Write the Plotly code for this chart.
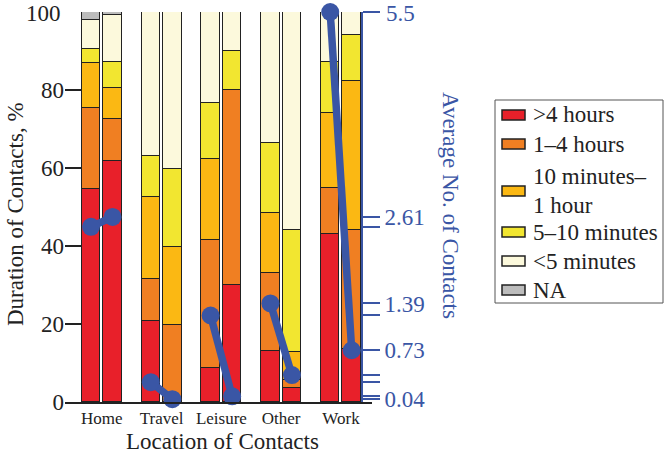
import plotly.graph_objects as go

# ---- data ----
locations = ["Home", "Travel", "Leisure", "Other", "Work"]
durations = [">4 hours", "1–4 hours", "10 minutes–<br>1 hour", "5–10 minutes", "<5 minutes", "NA"]
# two bars per location (first bar, second bar), values in %
gt4h    = [54.5, 61.8, 20.8, 0.0, 8.8, 30.0, 13.2, 3.7, 43.0, 13.5]
h1_4    = [21.0, 10.7, 10.7, 19.7, 32.7, 50.0, 20.0, 1.9, 11.8, 30.6]
m10_1h  = [11.5, 7.9, 21.0, 20.1, 20.8, 0.0, 15.2, 7.3, 19.2, 38.2]
m5_10   = [3.5, 6.9, 10.6, 19.9, 14.4, 10.0, 17.9, 31.2, 13.3, 11.8]
lt5m    = [7.5, 11.9, 36.9, 40.3, 23.3, 10.0, 33.7, 55.9, 12.7, 5.9]
na      = [2.0, 0.8, 0, 0, 0, 0, 0, 0, 0, 0]
avg_contacts = [2.47, 2.61, 0.28, 0.04, 1.22, 0.08, 1.39, 0.38, 5.5, 0.73]
right_labels = {0.04: "0.04", 0.73: "0.73", 1.39: "1.39", 2.61: "2.61"}
left_ticks = [0, 20, 40, 60, 80, 100]
left_labels = ["0", "20", "40", "60", "80", ""]
top_left_label, top_right_label = "100", "5.5"   # drawn as text a touch lower to stay inside the page

series = [gt4h, h1_4, m10_1h, m5_10, lt5m, na]
colors = ["#e8202a", "#f07f22", "#fbb813", "#f2e630", "#fcf9dc", "#bcbcbc"]

W, H = 664, 460
PLOT_L, PLOT_R, PLOT_T, PLOT_B = 65, 372, 12, 402
ML, MT = PLOT_L, PLOT_T
MR, MB = W - PLOT_R, H - PLOT_B
PW, PH = PLOT_R - PLOT_L, PLOT_B - PLOT_T


def px(x):
    return (x - PLOT_L) / PW


def py(y):
    return 1 - (y - PLOT_T) / PH


OFF = 0.18
xpos = []
for g in range(len(locations)):
    xpos += [g - OFF, g + OFF]

FONT = "Liberation Serif, Times New Roman, serif"
BLUE = "#3a56a5"
DARK = "#222222"

fig = go.Figure()
for name, vals, col in zip(durations, series, colors):
    fig.add_trace(go.Bar(
        x=xpos, y=vals, name=name, width=0.31, showlegend=False,
        marker=dict(color=col, line=dict(color=DARK, width=1.5)),
    ))

# line segments per location
lx, ly = [], []
for g in range(len(locations)):
    lx += [xpos[2 * g], xpos[2 * g + 1], None]
    ly += [avg_contacts[2 * g], avg_contacts[2 * g + 1], None]
fig.add_trace(go.Scatter(
    x=lx, y=ly, yaxis="y2", mode="lines+markers", showlegend=False,
    line=dict(color=BLUE, width=7.5), marker=dict(color=BLUE, size=18),
    cliponaxis=False,
))

tv = sorted(set(avg_contacts))
tt = [right_labels.get(v, "") for v in tv]

# ---- manual legend ----
shapes = [dict(type="rect", xref="paper", yref="paper",
               x0=px(495), x1=px(663), y0=py(100), y1=py(303),
               line=dict(color="#555555", width=1), fillcolor="white", layer="above")]
annotations = []
item_y = [115, 144, 191, 232, 261, 290]
labels = [[">4 hours"], ["1–4 hours"], ["10 minutes–", "1 hour"], ["5–10 minutes"], ["<5 minutes"], ["NA"]]
for yc, col, lab in zip(item_y, colors, labels):
    shapes.append(dict(type="rect", xref="paper", yref="paper",
                       x0=px(502), x1=px(525), y0=py(yc + 5), y1=py(yc - 5),
                       line=dict(color=DARK, width=1.5), fillcolor=col, layer="above"))
    if len(lab) == 1:
        ys = [yc]
    else:
        ys = [yc - 15, yc + 14]
    for t, yy in zip(lab, ys):
        annotations.append(dict(text=t, showarrow=False, xref="paper", yref="paper",
                                x=px(531), y=py(yy), xanchor="left", yanchor="middle",
                                font=dict(size=23, family=FONT, color=DARK)))

annotations += [
    dict(text="Average No. of Contacts", textangle=90, showarrow=False,
         xref="paper", yref="paper", x=px(451), y=py(206),
         xanchor="center", yanchor="middle", font=dict(size=23, family=FONT, color=BLUE)),
    dict(text="Duration of Contacts, %", textangle=-90, showarrow=False,
         xref="paper", yref="paper", x=px(15), y=py(214),
         xanchor="center", yanchor="middle", font=dict(size=23, family=FONT, color=DARK)),
    dict(text="Location of Contacts", showarrow=False,
         xref="paper", yref="paper", x=px(222), y=py(441),
         xanchor="center", yanchor="middle", font=dict(size=23, family=FONT, color=DARK)),
    dict(text=top_left_label, showarrow=False, xref="paper", yref="paper",
         x=px(63), y=py(14), xanchor="right", yanchor="middle",
         font=dict(size=23, family=FONT, color=DARK)),
    dict(text=top_right_label, showarrow=False, xref="paper", yref="paper",
         x=px(384), y=py(14), xanchor="left", yanchor="middle",
         font=dict(size=23, family=FONT, color=BLUE)),
]

fig.update_layout(
    width=W, height=H,
    margin=dict(l=ML, r=MR, t=MT, b=MB),
    paper_bgcolor="white", plot_bgcolor="white",
    barmode="stack", bargap=0,
    font=dict(family=FONT, color=DARK),
    showlegend=False,
    xaxis=dict(
        range=[-0.615, 4.519], tickvals=list(range(len(locations))), ticktext=locations,
        showline=True, linecolor=DARK, linewidth=1.5, showgrid=False, zeroline=False,
        ticks="", tickfont=dict(size=17, family=FONT, color=DARK), automargin=False,
    ),
    yaxis=dict(
        range=[0, 100], tickvals=left_ticks, ticktext=left_labels,
        showline=False, showgrid=False, zeroline=False,
        ticks="inside", ticklen=16, tickwidth=1.5, tickcolor=DARK,
        tickfont=dict(size=23, family=FONT, color=DARK), automargin=False,
    ),
    yaxis2=dict(
        range=[0, 5.5], overlaying="y", side="right", anchor="free",
        position=px(362),
        tickvals=tv, ticktext=tt,
        showline=True, linecolor=BLUE, linewidth=2, showgrid=False, zeroline=False,
        ticks="outside", ticklen=17, tickwidth=2, tickcolor=BLUE,
        tickfont=dict(size=23, family=FONT, color=BLUE), automargin=False,
    ),
    shapes=shapes,
    annotations=annotations,
)

# remove the browser's default 8px body margin so the 664x460 figure fills the window
fig.write_html("out.html", config={"displayModeBar": False},
               post_script="document.body.style.margin='0px';")
